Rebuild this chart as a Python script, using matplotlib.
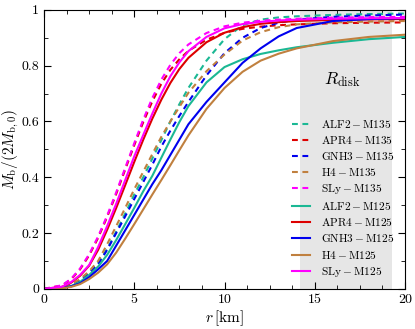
import matplotlib
matplotlib.use("Agg")
import matplotlib.pyplot as plt
from matplotlib.ticker import MultipleLocator, FuncFormatter

plt.rcParams['font.family'] = 'serif'
plt.rcParams['font.serif'] = ['cmr10']
plt.rcParams['mathtext.fontset'] = 'cm'
plt.rcParams['axes.unicode_minus'] = False

# radius grid [km]
r = [0, 1, 1.5, 2, 2.5, 3, 3.5, 4, 4.5, 5, 5.5, 6, 6.5, 7, 7.5, 8, 9, 10, 11, 12, 13, 14, 16, 18, 20]

# M135 runs (dashed)
alf2_m135 = [0, 0.004, 0.013, 0.030, 0.058, 0.093, 0.143, 0.205, 0.270, 0.338, 0.400, 0.467, 0.533, 0.600, 0.662, 0.720, 0.818, 0.895, 0.945, 0.965, 0.973, 0.977, 0.982, 0.985, 0.987]
apr4_m135 = [0, 0.012, 0.034, 0.070, 0.120, 0.183, 0.258, 0.340, 0.428, 0.515, 0.598, 0.672, 0.735, 0.785, 0.823, 0.853, 0.893, 0.918, 0.932, 0.940, 0.945, 0.948, 0.952, 0.954, 0.955]
gnh3_m135 = [0, 0.004, 0.012, 0.028, 0.055, 0.088, 0.140, 0.200, 0.260, 0.322, 0.383, 0.445, 0.510, 0.567, 0.620, 0.670, 0.765, 0.845, 0.900, 0.935, 0.954, 0.965, 0.975, 0.980, 0.983]
h4_m135 = [0, 0.005, 0.015, 0.035, 0.063, 0.100, 0.160, 0.225, 0.290, 0.357, 0.420, 0.483, 0.545, 0.600, 0.652, 0.703, 0.780, 0.840, 0.890, 0.920, 0.938, 0.948, 0.955, 0.958, 0.960]
sly_m135 = [0, 0.013, 0.036, 0.073, 0.124, 0.188, 0.263, 0.346, 0.434, 0.522, 0.607, 0.684, 0.750, 0.803, 0.845, 0.876, 0.917, 0.941, 0.954, 0.961, 0.965, 0.968, 0.972, 0.974, 0.975]

# M125 runs (solid)
alf2_m125 = [0, 0.003, 0.010, 0.025, 0.050, 0.080, 0.122, 0.175, 0.232, 0.290, 0.350, 0.405, 0.470, 0.535, 0.598, 0.655, 0.740, 0.795, 0.823, 0.842, 0.855, 0.866, 0.882, 0.895, 0.903]
apr4_m125 = [0, 0.007, 0.022, 0.047, 0.083, 0.140, 0.212, 0.290, 0.372, 0.455, 0.535, 0.610, 0.678, 0.738, 0.788, 0.828, 0.884, 0.918, 0.938, 0.950, 0.956, 0.960, 0.964, 0.966, 0.967]
gnh3_m125 = [0, 0.003, 0.009, 0.020, 0.042, 0.070, 0.100, 0.155, 0.210, 0.265, 0.320, 0.375, 0.425, 0.480, 0.535, 0.590, 0.670, 0.740, 0.810, 0.862, 0.905, 0.935, 0.960, 0.967, 0.970]
h4_m125 = [0, 0.002, 0.007, 0.017, 0.035, 0.058, 0.088, 0.130, 0.180, 0.232, 0.285, 0.338, 0.390, 0.443, 0.497, 0.550, 0.645, 0.720, 0.778, 0.818, 0.843, 0.862, 0.888, 0.903, 0.911]
sly_m125 = [0, 0.008, 0.024, 0.050, 0.085, 0.150, 0.225, 0.305, 0.390, 0.475, 0.552, 0.628, 0.700, 0.762, 0.812, 0.852, 0.903, 0.934, 0.949, 0.957, 0.962, 0.965, 0.968, 0.970, 0.971]

eos_names = ['ALF2', 'APR4', 'GNH3', 'H4', 'SLy']
colors = ['#1bb894', '#dd0000', '#0000ee', '#c0803f', '#ff00ff']
m135 = [alf2_m135, apr4_m135, gnh3_m135, h4_m135, sly_m135]
m125 = [alf2_m125, apr4_m125, gnh3_m125, h4_m125, sly_m125]

disk_span = (14.2, 19.3)

fig = plt.figure(figsize=(4.15, 3.29), dpi=100)
ax = fig.add_axes([0.106, 0.122, 0.87, 0.848])

ax.axvspan(*disk_span, color='#e6e6e6', lw=0, zorder=0)
ax.text(16.5, 0.75, r'$R_{\rm disk}$', fontsize=12.5, ha='center', va='center')

for name, c, y in zip(eos_names, colors, m135):
    ax.plot(r, y, color=c, lw=1.5, ls=(0, (2.8, 2.2)), label=r'$\mathrm{%s - M135}$' % name)
for name, c, y in zip(eos_names, colors, m125):
    ax.plot(r, y, color=c, lw=1.5, label=r'$\mathrm{%s - M125}$' % name)

ax.set_xlim(0, 20)
ax.set_ylim(0, 1)
ax.xaxis.set_major_locator(MultipleLocator(5))
ax.xaxis.set_minor_locator(MultipleLocator(1.25))
ax.yaxis.set_major_locator(MultipleLocator(0.2))
ax.yaxis.set_minor_locator(MultipleLocator(0.1))
ax.xaxis.set_major_formatter(FuncFormatter(lambda v, p: '%g' % v))
ax.yaxis.set_major_formatter(FuncFormatter(lambda v, p: '%g' % round(v, 2)))
ax.tick_params(which='both', direction='in', top=True, right=True, labelsize=10)
ax.tick_params(which='major', length=5)
ax.tick_params(which='minor', length=3)

ax.set_xlabel(r'$r\,[{\rm km}]$', fontsize=11, labelpad=2)
ax.set_ylabel(r'$M_{\rm b}/(2M_{\rm b,0})$', fontsize=11, labelpad=0.5)

ax.legend(loc='lower right', frameon=False, fontsize=8.2, handlelength=1.6,
          handletextpad=1.0, labelspacing=0.36, borderaxespad=0.5,
          bbox_to_anchor=(1.0, 0.0))

fig.savefig('out.png', dpi=100)
